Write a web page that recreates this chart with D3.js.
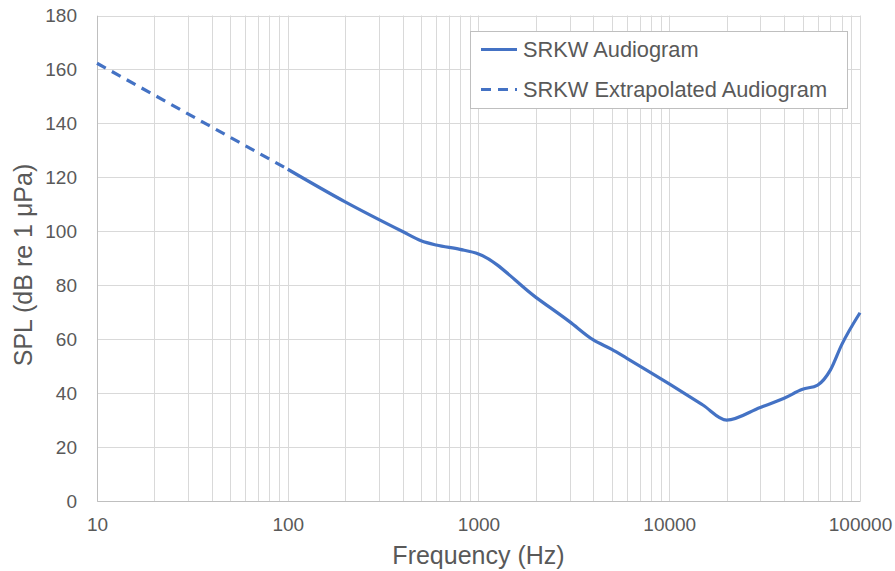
<!DOCTYPE html>
<html><head><meta charset="utf-8">
<script src="https://cdn.jsdelivr.net/npm/d3@7"></script>
<style>body{margin:0;background:#fff}svg{display:block}text{font-family:"Liberation Sans",Arial,sans-serif;fill:#595959}</style>
</head><body><svg id="c" width="895" height="571"></svg>
<script>
const extrapFreq = [10, 100];
const extrapSPL = [162.3, 123.0];
const freq = [100, 200, 400, 500, 600, 800, 1000, 2000, 3000, 4000, 5000, 6000, 10000, 15000, 20000, 30000, 40000, 50000, 60000, 70000, 80000, 100000];
const spl  = [123.0, 110.9, 99.9, 96.5, 94.9, 93.3, 91.6, 75.5, 66.5, 59.7, 56.2, 52.9, 43.4, 35.6, 30.0, 34.7, 38.1, 41.4, 43.0, 48.6, 57.8, 69.8];
const xTicks = [10, 100, 1000, 10000, 100000];
const yTicks = [0, 20, 40, 60, 80, 100, 120, 140, 160, 180];
const seriesNames = ["SRKW Audiogram", "SRKW Extrapolated Audiogram"];

const L = 97, R = 860, T = 15.5, B = 501;
const svg = d3.select("#c");
const x = d3.scaleLog().domain([10, 100000]).range([L, R]);
const y = d3.scaleLinear().domain([0, 180]).range([B, T]);

// minor + major vertical grid
const minor = [];
for (let d = 10; d < 100000; d *= 10) for (let k = 1; k <= 9; k++) minor.push(d * k);
minor.push(100000);
svg.append("g").selectAll("line").data(minor).join("line")
  .attr("x1", d => Math.round(x(d)) + 0.5).attr("x2", d => Math.round(x(d)) + 0.5)
  .attr("y1", T).attr("y2", B).attr("stroke", "#d9d9d9").attr("stroke-width", 1);
svg.append("g").selectAll("line").data(yTicks).join("line")
  .attr("x1", L).attr("x2", R)
  .attr("y1", d => Math.round(y(d)) + 0.5).attr("y2", d => Math.round(y(d)) + 0.5)
  .attr("stroke", "#d9d9d9").attr("stroke-width", 1);

// axes
const xAxis = svg.append("g").attr("transform", `translate(0,${B})`)
  .call(d3.axisBottom(x).tickValues(xTicks).tickFormat(d3.format("d")).tickSize(0).tickPadding(17));
xAxis.select(".domain").attr("stroke", "#bfbfbf");
xAxis.selectAll("text").style("font-size", "19px").attr("fill", "#595959");
const yAxis = svg.append("g").attr("transform", `translate(${L},0)`)
  .call(d3.axisLeft(y).tickValues(yTicks).tickSize(0).tickPadding(20));
yAxis.select(".domain").attr("stroke", "#bfbfbf");
yAxis.selectAll("text").style("font-size", "19px").attr("fill", "#595959");

// lines
const line = d3.line().x(d => x(d[0])).y(d => y(d[1])).curve(d3.curveMonotoneX);
svg.append("path").datum(extrapFreq.map((f, i) => [f, extrapSPL[i]]))
  .attr("d", line).attr("fill", "none").attr("stroke", "#4472c4")
  .attr("stroke-width", 3.2).attr("stroke-dasharray", "10,7");
svg.append("path").datum(freq.map((f, i) => [f, spl[i]]))
  .attr("d", line).attr("fill", "none").attr("stroke", "#4472c4")
  .attr("stroke-width", 3.2).attr("stroke-linejoin", "round");

// axis titles
svg.append("text").attr("x", (L + R) / 2).attr("y", 564).attr("text-anchor", "middle")
  .style("font-size", "25px").text("Frequency (Hz)");
svg.append("text").attr("transform", `translate(32,265) rotate(-90)`).attr("text-anchor", "middle")
  .style("font-size", "25px").text("SPL (dB re 1 μPa)");

// legend
const lg = svg.append("g");
lg.append("rect").attr("x", 470.5).attr("y", 31.5).attr("width", 377).attr("height", 77)
  .attr("fill", "#fff").attr("stroke", "#bfbfbf");
const rows = [{n: seriesNames[0], dash: null, cy: 49.5}, {n: seriesNames[1], dash: "10,7", cy: 89.5}];
rows.forEach(r => {
  lg.append("line").attr("x1", 481).attr("x2", 517).attr("y1", r.cy).attr("y2", r.cy)
    .attr("stroke", "#4472c4").attr("stroke-width", 3.2).attr("stroke-dasharray", r.dash);
  lg.append("text").attr("x", 523).attr("y", r.cy + 7).style("font-size", "21.8px").text(r.n);
});
</script></body></html>
